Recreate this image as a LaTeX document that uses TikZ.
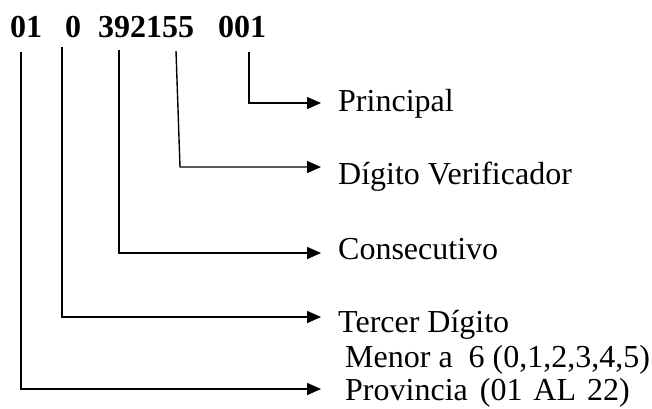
\documentclass[tikz,border=0pt]{standalone}
\usepackage{fontspec}
\setmainfont{Liberation Serif}
\usetikzlibrary{arrows.meta,calc}

\begin{document}
\begin{tikzpicture}[x=1pt, y=-1pt,
    num/.style={font=\fontsize{32}{35}\selectfont\bfseries, inner sep=0pt, anchor=base west},
    lbl/.style={font=\fontsize{32}{35}\selectfont, inner sep=0pt, anchor=base west},
    arr/.style={-{Triangle[length=14pt,width=12pt]}, line width=1.4pt, shorten >=17pt}
]
    \useasboundingbox (0,0) rectangle (652,408);

    % the code, split in its parts
    \node[num] (n01) at (10,37) {01};
    \node[num] (n0) at (65,37) {0};
    \node[num] (n392155) at (98,37) {392155};
    \node[num] (n001) at (218,37) {001};

    % labels
    \node[lbl] (lprin) at (338,111) {Principal};
    \node[lbl] (ldig) at (338,184) {Dígito Verificador};
    \node[lbl] (lcons) at (338,259) {Consecutivo};
    \node[lbl] (lterc) at (338,332) {Tercer Dígito};
    \node[lbl] (lmenor) at (345,367) {Menor a\ \ 6 (0,1,2,3,4,5)};
    \node[lbl] (lprov) at (345,400)
        {Provincia\hspace{12pt}(01\hspace{11pt}AL\hspace{11pt}22)};

    % where each line leaves the code
    \coordinate (c01) at (21,52);
    \coordinate (c0) at (62,47);
    \coordinate (c392) at (119,50);
    \coordinate (c155) at (176,51);
    \coordinate (c001) at (249,52);

    \draw[arr] (c001) |- ([yshift=8pt]lprin.base west);
    \draw[arr] (c155) -- ++(4,116) -- ([yshift=17pt]ldig.base west);
    \draw[arr] (c392) |- ([yshift=6pt]lcons.base west);
    \draw[arr] (c0) |- ([yshift=15pt]lterc.base west);
    \draw[arr] (c01) |- ([yshift=11pt,xshift=-7pt]lprov.base west);
\end{tikzpicture}
\end{document}
